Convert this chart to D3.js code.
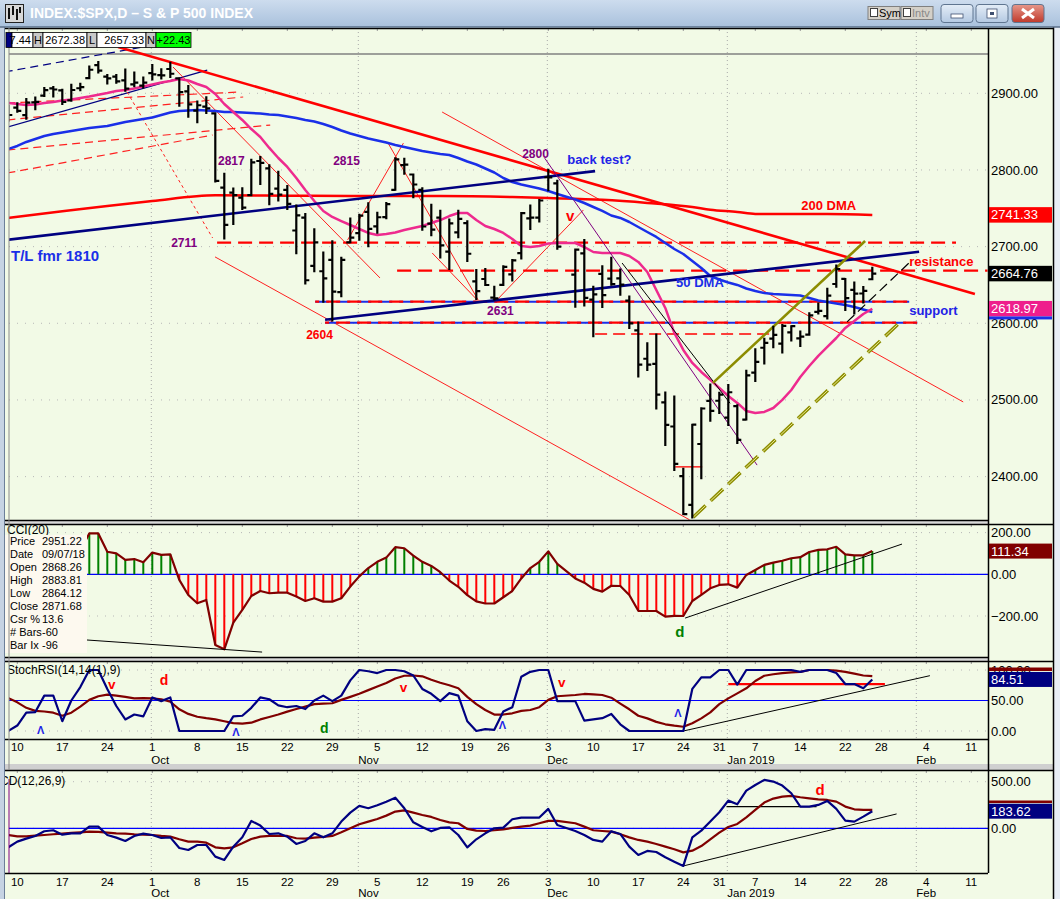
<!DOCTYPE html>
<html><head><meta charset="utf-8"><title>SPX</title>
<script src="https://cdn.jsdelivr.net/npm/d3@7/dist/d3.min.js"></script>
<style>html,body{margin:0;padding:0;background:#fff;overflow:hidden}svg{display:block;font-family:Arial,"Liberation Sans",Helvetica,sans-serif}</style>
</head><body>
<svg id="chart" width="1060" height="899"></svg>
<script>
// ================= DATA =================
const slotDates=["2018-09-07","2018-09-10","2018-09-11","2018-09-12","2018-09-13","2018-09-14","2018-09-17","2018-09-18","2018-09-19","2018-09-20","2018-09-21","2018-09-24","2018-09-25","2018-09-26","2018-09-27","2018-09-28",
"2018-10-01","2018-10-02","2018-10-03","2018-10-04","2018-10-05","2018-10-08","2018-10-09","2018-10-10","2018-10-11","2018-10-12","2018-10-15","2018-10-16","2018-10-17","2018-10-18","2018-10-19","2018-10-22","2018-10-23","2018-10-24","2018-10-25","2018-10-26","2018-10-29","2018-10-30","2018-10-31",
"2018-11-01","2018-11-02","2018-11-05","2018-11-06","2018-11-07","2018-11-08","2018-11-09","2018-11-12","2018-11-13","2018-11-14","2018-11-15","2018-11-16","2018-11-19","2018-11-20","2018-11-21","2018-11-23","2018-11-26","2018-11-27","2018-11-28","2018-11-29","2018-11-30",
"2018-12-03","2018-12-04","2018-12-05","2018-12-06","2018-12-07","2018-12-10","2018-12-11","2018-12-12","2018-12-13","2018-12-14","2018-12-17","2018-12-18","2018-12-19","2018-12-20","2018-12-21","2018-12-24","2018-12-26","2018-12-27","2018-12-28","2018-12-31",
"2019-01-02","2019-01-03","2019-01-04","2019-01-07","2019-01-08","2019-01-09","2019-01-10","2019-01-11","2019-01-14","2019-01-15","2019-01-16","2019-01-17","2019-01-18","2019-01-22","2019-01-23","2019-01-24","2019-01-25"];
const open=[2868.26,2881.39,2871.57,2888.29,2896.85,2906.38,2903.83,2890.74,2906.60,2919.73,2936.76,2921.83,2921.75,2916.98,2911.65,2910.03,
2926.29,2923.80,2931.69,2919.35,2902.54,2877.53,2882.51,2873.90,2776.87,2770.54,2763.83,2767.05,2811.67,2802.00,2775.66,2773.94,2721.03,2737.87,2674.88,2667.86,2682.65,2640.68,2705.60,
2717.58,2745.45,2726.37,2738.40,2774.13,2806.38,2794.10,2773.93,2730.05,2737.90,2693.52,2718.54,2730.74,2654.60,2657.74,2633.36,2649.97,2663.75,2691.45,2736.97,2737.76,
2790.50,2782.43,null,2663.51,2691.26,2630.86,2664.44,2658.23,2658.70,2629.68,2590.75,2553.70,2547.05,2496.77,2465.38,2400.56,2363.12,2442.50,2498.77,2498.94,
2476.96,2491.92,2474.33,2535.61,2568.11,2580.00,2573.51,2588.11,2580.31,2585.10,2614.75,2609.28,2651.27,2657.88,2643.48,2638.84,2657.44];
const high=[2883.81,2886.93,2892.52,2894.65,2906.76,2908.30,2904.65,2911.17,2912.36,2934.80,2940.91,2923.79,2923.95,2931.15,2927.22,2920.53,
2937.06,2931.42,2939.86,2919.78,2909.64,2889.45,2894.83,2874.02,2795.14,2775.77,2775.99,2813.46,2816.94,2806.04,2797.77,2778.94,2753.59,2742.59,2722.70,2692.38,2706.85,2685.43,2736.69,
2741.67,2756.55,2744.27,2756.82,2815.15,2814.75,2794.10,2775.99,2754.60,2746.80,2735.38,2746.75,2733.16,2669.44,2670.73,2647.55,2674.35,2682.53,2744.00,2753.75,2760.88,
2800.18,2785.93,null,2696.15,2708.54,2647.51,2674.35,2685.44,2670.19,2635.07,2601.13,2573.99,2585.29,2509.63,2504.41,2410.34,2467.76,2489.10,2520.27,2509.24,
2519.49,2493.14,2538.07,2566.16,2579.82,2595.32,2597.82,2596.27,2589.32,2613.08,2625.76,2645.06,2675.47,2657.88,2653.19,2647.20,2672.38];
const low=[2864.12,2875.94,2866.78,2879.20,2896.39,2895.77,2886.16,2890.43,2903.82,2919.73,2927.11,2912.63,2913.70,2903.28,2909.27,2907.50,
2917.91,2919.37,2921.36,2883.92,2869.29,2862.08,2874.27,2784.86,2710.51,2729.44,2749.03,2766.91,2781.81,2755.18,2760.27,2749.22,2691.43,2651.89,2667.84,2628.16,2603.54,2635.34,2705.60,
2708.85,2700.44,2717.94,2737.08,2774.13,2794.99,2764.24,2722.00,2714.98,2685.75,2670.75,2712.16,2681.09,2631.52,2649.82,2631.09,2649.97,2655.89,2684.38,2722.94,2732.76,
2773.38,2697.18,null,2621.53,2623.14,2583.23,2621.30,2650.26,2637.27,2593.84,2530.54,2538.95,2488.96,2441.18,2408.55,2351.10,2346.58,2397.94,2472.89,2482.82,
2467.47,2443.96,2474.33,2524.56,2547.56,2568.89,2562.02,2577.40,2570.41,2585.10,2612.68,2606.36,2647.58,2617.27,2612.86,2627.01,2657.33];
const close=[2871.68,2877.13,2887.89,2888.92,2904.18,2904.98,2888.80,2904.31,2907.95,2930.75,2929.67,2919.37,2915.56,2905.97,2914.00,2913.98,
2924.59,2923.43,2925.51,2901.61,2885.57,2884.43,2880.34,2785.68,2728.37,2767.13,2750.79,2809.92,2809.21,2768.78,2767.78,2755.88,2740.69,2656.10,2705.57,2658.69,2641.25,2682.63,2711.74,
2740.37,2723.06,2738.31,2755.45,2813.89,2806.83,2781.01,2726.22,2722.18,2701.58,2730.20,2736.27,2690.73,2641.89,2649.93,2632.56,2673.45,2682.17,2743.79,2737.80,2760.17,
2790.37,2700.06,null,2695.95,2633.08,2637.72,2636.78,2651.07,2650.54,2599.95,2545.94,2546.16,2506.96,2467.42,2416.62,2351.10,2467.70,2488.83,2485.74,2506.85,
2510.03,2447.89,2531.94,2549.69,2574.41,2584.96,2596.64,2596.26,2582.61,2610.30,2616.10,2635.96,2670.71,2632.90,2638.70,2642.33,2664.76];
const ma20=[2887.3,2886,2884.7,2885.4,2887.3,2888.7,2890.6,2891.9,2893.9,2895.8,2898.2,2900.4,2903,2904.3,2906.3,2908.9,2911.5,2914.1,2916,2918.7,2916.7,2912.1,2908.2,2899.1,2886,2875.6,2865.2,2853.4,2843,2828.7,2815.6,2803.9,2789.5,2773.9,2759.5,2746.5,2738.7,2733.4,2728.2,
2723,2717.8,2715.2,2716.5,2718.4,2721.7,2724.3,2726.9,2730.8,2734.7,2739.9,2743.9,2743.9,2734.7,2726.9,2723,2717.8,2710,2700.8,2699.5,2700.8,
2704.1,2704.7,null,2704.7,2699.5,2693,2691.7,2691.7,2691.7,2687.8,2680,2666.9,2643.4,2620,2587.4,2565.2,2548.3,2536.5,2526.1,2515.6,
2505.2,2496.1,2485.6,2483,2484.3,2489.5,2500,2513,2530,2544.3,2557.4,2569.1,2580.8,2593.9,2603,2612.1,2619];
const ma50=[2827.4,2831.3,2836.5,2840.4,2844.3,2846.9,2848.9,2850.8,2852.8,2854.7,2856,2857.3,2860,2862.6,2864.5,2866.5,2868.4,2871.7,2875,2876.9,2877.6,2878.2,2877.6,2876.9,2875.6,2875.6,2875,2874.3,2873.7,2872.3,2871.7,2869.7,2867.8,2865.2,2863.2,2860,2856,2851.5,2847.6,
2844.3,2841,2838.4,2835.8,2832.6,2830,2827.4,2824.7,2822.8,2820.8,2819.5,2815.6,2811,2807.1,2801.9,2796.7,2789.5,2784.3,2781,2778.4,2775.8,
2772.6,2768.7,null,2761.5,2756.9,2751.7,2746.5,2740.6,2737.4,2732.1,2725.6,2719.1,2712.6,2704.7,2696.9,2690.4,2681.3,2672.1,2661.7,2657.1,
2653.2,2650,2645.4,2642.1,2639.5,2638.2,2637.6,2636.9,2636.3,2633,2629.8,2627.8,2625.8,2623.9,2621.3,2618,2614.8];
const dma200Slots=[0,6,11,16,23,31,38,48,56,60,66,71,76,78,81,83,86,91,96];
const dma200Vals=[2737.4,2746,2753,2759.5,2767,2766.5,2766,2766,2764.7,2763.4,2761,2757,2751.7,2748,2745.2,2742.6,2742.6,2742.6,2741.3];
const cci=[60,40,80,75,130,125,70,110,115,196,196,
108,100,69,73,58,104,93,96,-27,-99,-139,-123,-339,-360,-232,-171,-104,-80,-91,-88,-88,-107,-128,-115,-131,-131,-115,-59,
-10,30,60,80,130,125,90,60,40,10,-30,-60,-100,-130,-140,-140,-110,-80,-20,30,60,110,50,null,-20,-40,-70,
-83,-55,-56,-99,-175,-176,-176,-203,-199,-200,-128,-99,-67,-51,-48,-64,-3,21,45,56,65,77,82,107,117,120,132,96,91,91,111.34];
const stochK=[0,9,30,31,58,58,16,50,72,100,100,69,41,19,27,24,55,49,55,0,0,0,0,0,0,24,25,38,55,52,42,39,41,36,50,58,49,58,83,
100,98,95,100,100,98,91,69,61,49,62,58,16,0,3,2,32,39,89,97,100,100,49,null,49,17,19,21,28,11,0,0,0,0,0,0,0,69,88,88,
100,100,76,100,100,100,100,100,100,97,100,100,100,95,77,77,70,84.51];
const stochD=[54,47,38,33,32,30,25,30,40,51,57,59.5,58,56,53.5,54,53.5,52,48,35.6,28,23.4,21,19,16,13,12,13.6,19,23,27,31.7,36,40,44,45,45.5,51,56,
61,67,73,78.7,86,90.6,91,89.6,84,79,75,70,56,44,34.4,27,27,29,33,34.4,39,51,57,null,59,60.7,60,59,54.6,45,35.6,25,20.7,15,11,8.7,7,12.6,20.7,30.6,
44,53.5,61.7,70,82,90.6,93,95,96,97,100,100,100,99,97,94,91,90];
const macdLine=[-204,-143,-111,-82,-32,-21,-68,-54,-54,18,18,-72,-100,-136,-82,-57,-72,-104,-97,-211,-233,-179,-179,-304,-340,-197,-97,79,29,-61,-54,-90,-168,-136,-54,-97,-54,72,168,
240,215,247,286,329,215,64,14,-32,4,11,-72,-204,-118,-54,0,7,97,115,115,115,208,36,null,-29,-72,-125,-143,-32,-61,-197,-286,-243,-254,-311,-358,-404,-97,-25,72,
172,297,258,404,465,519,501,458,376,233,233,251,294,208,82,72,125,183.62];
const macdSignal=[-72,-86,-86,-79,-72,-64,-57,-50,-43,-36,-39,-47,-54,-57,-64,-68,-72,-82,-89,-118,-143,-143,-154,-204,-215,-204,-161,-115,-89,-82,-82,-82,-107,-111,-100,-93,-82,-43,0,
43,72,100,136,179,193,168,143,122,89,64,54,-7,-25,-29,-21,-11,4,18,29,54,79,79,null,54,18,-21,-29,-36,-64,-97,-125,-143,-168,-197,-225,-258,-240,-190,-118,
-47,14,47,118,197,276,319,340,347,333,322,311,304,286,233,204,197,197];
const priceTicks=[2400,2500,2600,2700,2800,2900];
const cciTicks=[-200,0,200];
const stochTicks=[0,50,100];
const macdTicks=[0,500];
const weekSlots=[1,6,11,16,21,26,31,36,41,46,51,55,60,65,70,75,79,83,88,93,97,102,107];
const weekLabels=["10","17","24","1","8","15","22","29","5","12","19","26","3","10","17","24","31","7","14","22","28","4","11"];
const monthSlots=[16,39,60,80,101];
const monthLabels=["Oct","Nov","Dec","Jan 2019","Feb"];
// trend lines [slot, price]
const tlDown=[[12.2,2960.4],[107.4,2638.2]];
const tlNavy1=[[-0.4,2708.5],[65.2,2798.5]];
const tlNavy2=[[35.2,2604.5],[101.2,2693.2]];
const hl2705=[[23.2,2705.1],[105.3,2705.1]];
const hlRes=[[43.2,2668.6],[108.8,2668.6]];
const hlSup1=[[34.1,2628.2],[100.1,2628.2]];
const hlSup2=[[35.2,2600.8],[101,2600.8]];
const hl2586=[[65.2,2586],[85,2586]];
const hl2413=[[74.1,2412.7],[77.1,2412.7]];
const thinRed=[[[22.97,2686.6],[75.7,2343.6]],[[48.2,2875.6],[106.1,2497.4]],[[18.3,2934.3],[41.3,2659.1]],[[37.7,2708.7],[43.9,2835]],[[42.2,2835],[52.2,2630.5]],[[54.3,2630.5],[63.9,2747.8]],[[47.1,2691.7],[52.1,2630.5]]];
const dottedRed=[[13.2,2901.7],[22.7,2711.3]];
const upDashRed=[[[-0.1,2887.3],[25.7,2901.7]],[[-0.1,2865.2],[26.1,2895.2]],[[-0.1,2826],[29.1,2858.6]],[[-0.1,2796],[22.7,2845.6]]];
const upNavy=[[-0.1,2855.9],[22.1,2930.2]];
const upNavyDash=[[[-0.4,2927.8],[18,2966.9]]];
const purpleLine=[[59.6,2815.4],[83.2,2415]];
const blackThin=[[68.2,2678.6],[80.2,2495.6]];
const oliveSolid=[[78.3,2522.2],[95.2,2707.4]];
const oliveDash=[[76.1,2347],[99.1,2601.6]];
const blackDash=[[93.2,2601.8],[100.2,2680]];
const cciTL=[[[8.7,-315],[28.2,-373]],[[75.2,-210],[99.3,145]]];
const stochRed=[[80,77],[97.4,77]];
const stochTL=[[75,0],[102.4,90.7]];
const macdFlat=[[79.8,232],[89.8,232]];
const macdTL=[[75,-404],[98.7,154]];

// ================= SETUP =================
const svg=d3.select('#chart');
const BG='#F2FAE6';
const X0=9,X1=988;
const xS=d3.scaleLinear().domain([0,100]).range([8.3,908.3]);
const yP=d3.scaleLinear().domain([2400,2900]).range([476.6,93.3]);
const yC=d3.scaleLinear().domain([-200,200]).range([616,532.6]);
const yS=d3.scaleLinear().domain([0,100]).range([731,670]);
const yM=d3.scaleLinear().domain([0,500]).range([828.3,781.7]);
const panels={P:{t:28,b:520,y:yP,ticks:priceTicks},C:{t:524,b:657,y:yC,ticks:cciTicks},S:{t:661,b:739,y:yS,ticks:stochTicks},M:{t:770,b:873,y:yM,ticks:macdTicks}};

svg.append('rect').attr('width',1060).attr('height',899).attr('fill',BG);
const defs=svg.append('defs');
const grad=defs.append('linearGradient').attr('id','tb').attr('x1',0).attr('y1',0).attr('x2',0).attr('y2',1);
grad.append('stop').attr('offset',0).attr('stop-color','#cddcee');
grad.append('stop').attr('offset',1).attr('stop-color','#a9c1dc');
const rg=defs.append('linearGradient').attr('id','cl').attr('x1',0).attr('y1',0).attr('x2',0).attr('y2',1);
rg.append('stop').attr('offset',0).attr('stop-color','#e6978a');
rg.append('stop').attr('offset',1).attr('stop-color','#c0392b');
const bg2=defs.append('linearGradient').attr('id','bt').attr('x1',0).attr('y1',0).attr('x2',0).attr('y2',1);
bg2.append('stop').attr('offset',0).attr('stop-color','#e4edf7');
bg2.append('stop').attr('offset',1).attr('stop-color','#b4c9e2');
Object.entries(panels).forEach(([k,p])=>{
  defs.append('clipPath').attr('id','clip'+k).append('rect').attr('x',X0).attr('y',p.t).attr('width',X1-X0).attr('height',p.b-p.t);
});
defs.append('clipPath').attr('id','clip100').append('rect').attr('x',989).attr('y',662).attr('width',63).attr('height',6);

function txt(g,x,y,t,o={}){
  return g.append('text').attr('x',x).attr('y',y).attr('dy','0.35em').text(t)
    .attr('font-size',o.size||12).attr('font-weight',o.bold?'bold':'normal')
    .attr('fill',o.fill||'#000').attr('text-anchor',o.anchor||'start');
}
function seg(g,pts,ys,stroke,w,dash){
  const l=g.append('line').attr('x1',xS(pts[0][0])).attr('y1',ys(pts[0][1])).attr('x2',xS(pts[1][0])).attr('y2',ys(pts[1][1]))
    .attr('stroke',stroke).attr('stroke-width',w);
  if(dash) l.attr('stroke-dasharray',dash);
  return l;
}
function series(g,vals,ys,stroke,w){
  const pts=vals.map((v,i)=>[i,v]).filter(d=>d[1]!=null);
  g.append('path').datum(pts).attr('fill','none').attr('stroke',stroke).attr('stroke-width',w)
   .attr('stroke-linejoin','round').attr('d',d3.line().x(d=>xS(d[0])).y(d=>ys(d[1])));
}

// grids
Object.entries(panels).forEach(([k,p])=>{
  const g=svg.append('g').attr('clip-path','url(#clip'+k+')');
  monthSlots.forEach(s=>{
    g.append('line').attr('x1',xS(s)-1).attr('x2',xS(s)-1).attr('y1',p.t).attr('y2',p.b)
     .attr('stroke','#a8a8a8').attr('stroke-width',1).attr('stroke-dasharray','1,3');
  });
  p.ticks.forEach(t=>{
    g.append('line').attr('x1',X0).attr('x2',X1).attr('y1',p.y(t)).attr('y2',p.y(t))
     .attr('stroke','#b8b8b8').attr('stroke-width',1).attr('stroke-dasharray','1,7');
  });
  weekSlots.forEach(s=>{
    g.append('line').attr('x1',xS(s)).attr('x2',xS(s)).attr('y1',p.t).attr('y2',p.t+3).attr('stroke','#999');
  });
});

// ================= PRICE PANEL =================
const gP=svg.append('g').attr('clip-path','url(#clipP)');
gP.append('line').attr('x1',X0).attr('x2',X1).attr('y1',yP(2951.22)).attr('y2',yP(2951.22)).attr('stroke','#808080').attr('stroke-width',1.5);
upDashRed.forEach(l=>seg(gP,l,yP,'#ff2020',1.2,'8,5'));
upNavyDash.forEach(l=>seg(gP,l,yP,'#000080',1.2,'8,5'));
seg(gP,upNavy,yP,'#000080',1.2);
seg(gP,dottedRed,yP,'#ff2020',1,'3,3');
thinRed.forEach(l=>seg(gP,l,yP,'#ff2020',1));
seg(gP,hl2705,yP,'#ff0000',2.2,'14,7');
seg(gP,hlRes,yP,'#ff0000',2.2,'14,7');
seg(gP,hlSup1,yP,'#1a2fe8',2,'14,7');
seg(gP,hlSup1,yP,'#ff0000',2.2,'14,7').attr('stroke-dashoffset',10);
seg(gP,hlSup2,yP,'#1a2fe8',2,'14,7');
seg(gP,hlSup2,yP,'#ff0000',2.2,'14,7').attr('stroke-dashoffset',10);
seg(gP,hl2586,yP,'#ff0000',1.3,'12,6');
seg(gP,hl2413,yP,'#ff0000',1.3);
const dmaPts=dma200Slots.map((s,i)=>[s,dma200Vals[i]]);
gP.append('path').datum(dmaPts).attr('fill','none').attr('stroke','#ff0000').attr('stroke-width',2.5)
  .attr('d',d3.line().x(d=>xS(d[0])).y(d=>yP(d[1])).curve(d3.curveMonotoneX));
series(gP,ma50,yP,'#1a2fe8',2.5);
series(gP,ma20,yP,'#ee2a8e',2.5);
seg(gP,tlDown,yP,'#ff0000',2.6);
seg(gP,tlNavy1,yP,'#000080',2.6);
seg(gP,tlNavy2,yP,'#000080',2.6);
seg(gP,purpleLine,yP,'#800080',1);
seg(gP,blackThin,yP,'#000000',1);
seg(gP,oliveSolid,yP,'#8c8c00',2.6);
seg(gP,oliveDash,yP,'#8c8c00',3.5,'17,7');
seg(gP,oliveDash,yP,'#e8e890',1,'17,7');
seg(gP,blackDash,yP,'#000000',1.2,'10,5');
const bars=slotDates.map((d,i)=>({i,o:open[i],h:high[i],l:low[i],c:close[i]})).filter(d=>d.o!=null);
gP.selectAll('path.bar').data(bars).enter().append('path').attr('class','bar')
  .attr('fill','none').attr('stroke','#000').attr('stroke-width',2.2)
  .attr('d',d=>{const x=xS(d.i);return `M${x},${yP(d.h)-1}V${yP(d.l)+1}M${x-4},${yP(d.o)}H${x}M${x},${yP(d.c)}H${x+4}`;});
const purple='#800080';
txt(gP,xS(23.3),yP(2811.5),'2817',{bold:true,fill:purple});
txt(gP,xS(36.1),yP(2811.5),'2815',{bold:true,fill:purple});
txt(gP,xS(57.1),yP(2820.8),'2800',{bold:true,fill:purple});
txt(gP,xS(18.1),yP(2704.7),'2711',{bold:true,fill:purple});
txt(gP,xS(53.2),yP(2616.1),'2631',{bold:true,fill:purple});
txt(gP,xS(33.1),yP(2584.8),'2604',{bold:true,fill:'#ff0000'});
txt(gP,xS(62.1),yP(2814.2),'back test?',{bold:true,fill:'#2222e6',size:13});
txt(gP,xS(0.3),yP(2687.8),'T/L fmr 1810',{bold:true,fill:'#1a2fe8',size:15});
txt(gP,xS(61.97),yP(2740),'v',{bold:true,fill:'#ff0000',size:15});
txt(gP,xS(74.2),yP(2653.8),'50 DMA',{bold:true,fill:'#1a2fe8',size:13});
txt(gP,xS(88.1),yP(2754.3),'200 DMA',{bold:true,fill:'#ff0000',size:13});
txt(gP,xS(100.1),yP(2681.3),'resistance',{bold:true,fill:'#ff0000',size:13});
txt(gP,xS(100.1),yP(2616.1),'support',{bold:true,fill:'#2222e6',size:13});

// ================= CCI PANEL =================
const gC=svg.append('g').attr('clip-path','url(#clipC)');
gC.append('line').attr('x1',X0).attr('x2',X1).attr('y1',yC(0)).attr('y2',yC(0)).attr('stroke','#0000ff').attr('stroke-width',1.2);
const cciPts=cci.map((v,i)=>({i,v})).filter(d=>d.v!=null);
gC.selectAll('line.h').data(cciPts).enter().append('line').attr('class','h')
  .attr('x1',d=>xS(d.i)).attr('x2',d=>xS(d.i)).attr('y1',yC(0)).attr('y2',d=>yC(d.v))
  .attr('stroke',d=>d.v>=0?'#008000':'#ff0000').attr('stroke-width',2);
series(gC,cci,yC,'#800000',2.2);
cciTL.forEach(l=>seg(gC,l,yC,'#000',1));
txt(gC,xS(74.1),yC(-277),'d',{bold:true,fill:'#008000',size:15});
txt(svg,7,530,'CCI(20)',{size:12});
const ib=svg.append('g');
ib.append('rect').attr('x',5).attr('y',535).attr('width',82).attr('height',118).attr('fill','#fdf9ef');
const infoL=['Price','Date','Open','High','Low','Close','Csr %','# Bars','Bar Ix'];
const infoV=['2951.22','09/07/18','2868.26','2883.81','2864.12','2871.68','13.6','-60','-96'];
infoL.forEach((l,k)=>{txt(ib,10,541.5+k*13,l,{size:11});txt(ib,42,541.5+k*13,infoV[k],{size:11});});

// ================= STOCH RSI PANEL =================
const gS=svg.append('g').attr('clip-path','url(#clipS)');
gS.append('line').attr('x1',X0).attr('x2',X1).attr('y1',yS(50)).attr('y2',yS(50)).attr('stroke','#0000ff').attr('stroke-width',1.2);
seg(gS,stochRed,yS,'#ff0000',2.2);
seg(gS,stochTL,yS,'#000',1);
series(gS,stochD,yS,'#800000',2.2);
series(gS,stochK,yS,'#000080',2.2);
txt(gS,7,670,'StochRSI(14,14(1),9)',{size:12});
[[3.6,1.6],[25.3,-1.6],[54.9,9.8],[74.4,29.5]].forEach(p=>txt(gS,xS(p[0]),yS(p[1]),'Λ',{bold:true,fill:'#2222e6',size:11,anchor:'middle'}));
[[11.5,76.5],[43.9,72],[61.5,80]].forEach(p=>txt(gS,xS(p[0]),yS(p[1]),'v',{bold:true,fill:'#ff0000',size:13.5,anchor:'middle'}));
txt(gS,xS(17.3),yS(83.6),'d',{bold:true,fill:'#ff0000',size:14,anchor:'middle'});
txt(gS,xS(35.1),yS(4.9),'d',{bold:true,fill:'#008000',size:14,anchor:'middle'});

// ================= MACD PANEL =================
const gM=svg.append('g').attr('clip-path','url(#clipM)');
gM.append('line').attr('x1',X0).attr('x2',X1).attr('y1',yM(0)).attr('y2',yM(0)).attr('stroke','#0000ff').attr('stroke-width',1.2);
seg(gM,macdFlat,yM,'#000',1.2);
seg(gM,macdTL,yM,'#000',1);
series(gM,macdSignal,yM,'#800000',2.2);
series(gM,macdLine,yM,'#000080',2.2);
txt(gM,xS(90.2),yM(411),'d',{bold:true,fill:'#ff0000',size:15,anchor:'middle'});
svg.append('line').attr('x1',9).attr('x2',9).attr('y1',779).attr('y2',873).attr('stroke','#800080').attr('stroke-width',1);
txt(svg,0,781,'CD(12,26,9)',{size:12});

// ================= FRAMES & AXES =================
svg.append('rect').attr('x',0).attr('y',520).attr('width',988).attr('height',4).attr('fill','#d8d8d8');
svg.append('rect').attr('x',0).attr('y',657).attr('width',988).attr('height',4).attr('fill','#d8d8d8');
svg.append('rect').attr('x',0).attr('y',764).attr('width',1053).attr('height',6).attr('fill','#d0d0d0');
Object.values(panels).forEach(p=>{
  svg.append('line').attr('x1',0).attr('x2',1053).attr('y1',p.t+0.5).attr('y2',p.t+0.5).attr('stroke','#000').attr('stroke-width',1.5);
  svg.append('line').attr('x1',0).attr('x2',988).attr('y1',p.b+0.5).attr('y2',p.b+0.5).attr('stroke','#000').attr('stroke-width',1.5);
});
svg.append('line').attr('x1',988.5).attr('x2',988.5).attr('y1',28).attr('y2',873).attr('stroke','#000').attr('stroke-width',1.5);
svg.append('line').attr('x1',9).attr('x2',9).attr('y1',28).attr('y2',770).attr('stroke','#8a8a8a').attr('stroke-width',1);
const fmt=d3.format('.2f');
Object.values(panels).forEach(p=>{
  p.ticks.forEach(t=>{
    const yy=p.y(t);
    if(yy>p.t+4 && yy<p.b-4) txt(svg,991,yy,fmt(t),{size:13});
    else if(yy>=p.t-8 && yy<=p.t+4) txt(svg.append('g').attr('clip-path','url(#clip100)'),991,yy,fmt(t),{size:13});
  });
});
function badge(y,h,fill,t){
  svg.append('rect').attr('x',989).attr('y',y).attr('width',63).attr('height',h).attr('fill',fill);
  if(t) txt(svg,991,y+h/2,t,{size:13,fill:'#fff'});
}
badge(yP(2741.33)-7.8,15.5,'#ff0000','2741.33');
badge(yP(2664.76)-7.8,15.5,'#000000','2664.76');
badge(yP(2618.97)-7.8,15.5,'#ee1e8c','2618.97');
svg.append('rect').attr('x',989).attr('y',yP(2618.97)+7.7).attr('width',63).attr('height',3).attr('fill','#1a2fe8');
badge(yC(111.34)-7.5,15,'#800000','111.34');
badge(667.5,3.5,'#800000',null);
badge(yS(84.51)-7.5,15,'#000080','84.51');
badge(800.5,2.5,'#800000',null);
badge(yM(183.62)-7.5,15,'#000080','183.62');
[[747,759.5],[881.5,893]].forEach(r=>{
  weekSlots.forEach((s,k)=>txt(svg,xS(s),r[0],weekLabels[k],{size:11.5,anchor:'middle'}));
  monthSlots.forEach((s,k)=>txt(svg,xS(s)-1,r[1],monthLabels[k],{size:11.5}));
});
svg.append('rect').attr('x',1053).attr('y',27).attr('width',7).attr('height',872).attr('fill','#e8eef5');
svg.append('line').attr('x1',1053.5).attr('x2',1053.5).attr('y1',27).attr('y2',899).attr('stroke','#000').attr('stroke-width',1.5);
svg.append('rect').attr('x',0).attr('y',27).attr('width',4).attr('height',872).attr('fill','#c6d3e3');
svg.append('line').attr('x1',4.5).attr('x2',4.5).attr('y1',27).attr('y2',899).attr('stroke','#6c7f99').attr('stroke-width',1);

// ================= TITLE BAR =================
svg.append('rect').attr('x',0).attr('y',0).attr('width',1060).attr('height',27).attr('fill','url(#tb)');
svg.append('line').attr('x1',0).attr('x2',1060).attr('y1',27).attr('y2',27).attr('stroke','#5a6e88').attr('stroke-width',1.5);
const ic=svg.append('g');
ic.append('rect').attr('x',5.5).attr('y',4.5).attr('width',18).attr('height',18).attr('fill','#d8d8d8').attr('stroke','#222');
[[9,8,19],[13,6,15],[17,9,20],[20,7,13]].forEach(b=>ic.append('line').attr('x1',b[0]).attr('x2',b[0]).attr('y1',b[1]).attr('y2',b[2]).attr('stroke','#111').attr('stroke-width',2));
txt(svg,30,13.5,'INDEX:$SPX,D – S & P 500 INDEX',{size:14,bold:true,fill:'#fff'});
[[868,'Sym','#000'],[901,'Intv','#888']].forEach(b=>{
  svg.append('rect').attr('x',b[0]).attr('y',6.5).attr('width',32).attr('height',13).attr('fill','#d4d0c8').attr('stroke','#808080');
  svg.append('rect').attr('x',b[0]+2.5).attr('y',8.5).attr('width',7).attr('height',8).attr('fill','#fff').attr('stroke','#404040');
  txt(svg,b[0]+11,13,b[1],{size:11,fill:b[2]});
});
[[941,'url(#bt)'],[976,'url(#bt)'],[1012,'url(#cl)']].forEach(b=>{
  svg.append('rect').attr('x',b[0]).attr('y',4.5).attr('width',32).attr('height',18).attr('rx',3).attr('fill',b[1]).attr('stroke','#5f7590');
});
svg.append('rect').attr('x',951).attr('y',14).attr('width',12).attr('height',4).attr('fill','#fff').attr('stroke','#405070').attr('stroke-width',0.8);
svg.append('rect').attr('x',987).attr('y',9).attr('width',10).attr('height',9).attr('fill','#fff').attr('stroke','#405070').attr('stroke-width',0.8);
svg.append('rect').attr('x',990).attr('y',12).attr('width',4).attr('height',3).attr('fill','#405070');
svg.append('path').attr('d','M1022,9L1034,18M1034,9L1022,18').attr('stroke','#fff').attr('stroke-width',3);
const hb=svg.append('g');
const hcells=[[6,6,'#000080','',''],[12,21,'#fff','7.44','end'],[33,10,'#c8c8c8','H','middle'],[43,44,'#fff','2672.38','end'],[87,10,'#c8c8c8','L','middle'],[97,49,'#fff','2657.33','end'],[146,10,'#c8c8c8','N','middle'],[156,35,'#00ff00','+22.43','middle']];
hcells.forEach(c=>{
  hb.append('rect').attr('x',c[0]).attr('y',32.5).attr('width',c[1]).attr('height',15).attr('fill',c[2]).attr('stroke','#000').attr('stroke-width',0.8);
  if(c[3]){
    const tx=c[4]==='end'?c[0]+c[1]-2:c[0]+c[1]/2;
    txt(hb,tx,40,c[3],{size:11,anchor:c[4]});
  }
});
</script>
</body></html>
